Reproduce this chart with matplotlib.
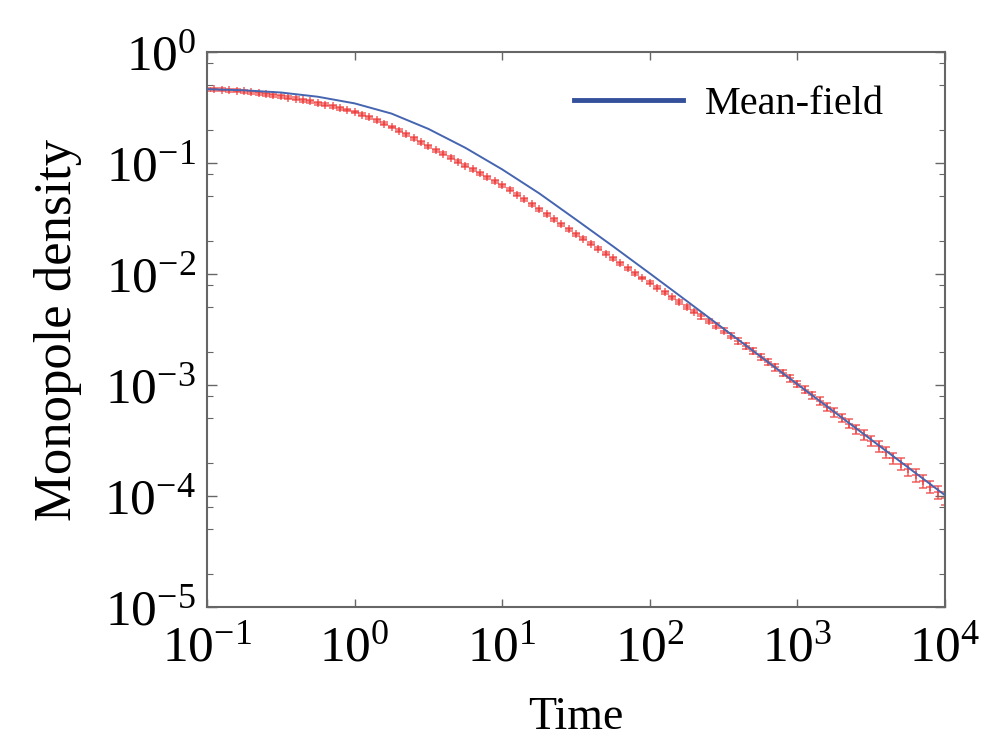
import numpy as np
import matplotlib
matplotlib.use("Agg")
import matplotlib.pyplot as plt
from matplotlib.ticker import LogLocator, FuncFormatter, NullLocator

plt.rcParams["font.family"] = ["Liberation Serif", "DejaVu Serif"]
plt.rcParams["mathtext.fontset"] = "custom"
plt.rcParams["mathtext.rm"] = "Liberation Serif"
plt.rcParams["mathtext.it"] = "Liberation Serif:italic"

# Mean-field curve, log10 of time and density
mf_log_time = [-1.00, -0.75, -0.50, -0.25, 0.00, 0.25, 0.50, 0.75, 1.00, 1.25,
               1.50, 1.75, 2.00, 2.25, 2.50, 2.75, 3.00, 3.50, 4.00]
mf_log_density = [-0.335, -0.345, -0.365, -0.403, -0.463, -0.555, -0.693,
                  -0.863, -1.058, -1.273, -1.510, -1.750, -1.995, -2.243,
                  -2.493, -2.743, -2.993, -3.493, -3.993]

# Simulation points: log10(time) and log10(density)
sim_log_time = [
    -1.00, -0.95, -0.90, -0.85, -0.80, -0.75, -0.70, -0.65, -0.60, -0.55,
    -0.50, -0.45, -0.40, -0.35, -0.30, -0.25, -0.20, -0.15, -0.10, -0.05,
    0.00, 0.05, 0.10, 0.15, 0.20, 0.25, 0.30, 0.35, 0.40, 0.45,
    0.50, 0.55, 0.60, 0.65, 0.70, 0.75, 0.80, 0.85, 0.90, 0.95,
    1.00, 1.05, 1.10, 1.15, 1.20, 1.25, 1.30, 1.35, 1.40, 1.45,
    1.50, 1.55, 1.60, 1.65, 1.70, 1.75, 1.80, 1.85, 1.90, 1.95,
    2.00, 2.05, 2.10, 2.15, 2.20, 2.25, 2.30, 2.35, 2.40, 2.45,
    2.50, 2.55, 2.60, 2.65, 2.70, 2.75, 2.80, 2.85, 2.90, 2.95,
    3.00, 3.05, 3.10, 3.15, 3.20, 3.25, 3.30, 3.35, 3.40, 3.45,
    3.50, 3.55, 3.60, 3.65, 3.70, 3.75, 3.80, 3.85, 3.90, 3.95,
    4.00,
]
sim_log_density = [
    -0.335, -0.337, -0.340, -0.344, -0.349, -0.355, -0.362, -0.370, -0.379, -0.389,
    -0.400, -0.410, -0.421, -0.433, -0.446, -0.460, -0.475, -0.490, -0.506, -0.522,
    -0.540, -0.564, -0.590, -0.617, -0.646, -0.676, -0.708, -0.741, -0.776, -0.812,
    -0.850, -0.884, -0.918, -0.953, -0.988, -1.023, -1.058, -1.093, -1.128, -1.164,
    -1.200, -1.242, -1.285, -1.328, -1.372, -1.416, -1.460, -1.505, -1.550, -1.595,
    -1.640, -1.684, -1.728, -1.772, -1.816, -1.860, -1.904, -1.948, -1.992, -2.036,
    -2.080, -2.123, -2.166, -2.209, -2.252, -2.295, -2.338, -2.381, -2.424, -2.467,
    -2.510, -2.556, -2.602, -2.649, -2.696, -2.744, -2.792, -2.841, -2.890, -2.940,
    -2.990, -3.041, -3.092, -3.143, -3.194, -3.245, -3.296, -3.347, -3.398, -3.449,
    -3.500, -3.552, -3.604, -3.656, -3.708, -3.760, -3.812, -3.864, -3.916, -3.968,
    -4.020,
]
# relative error of each simulation point
sim_rel_err = [
    0.03, 0.03, 0.03, 0.03, 0.03, 0.03, 0.03, 0.03, 0.03, 0.03,
    0.03, 0.03, 0.03, 0.03, 0.03, 0.03, 0.03, 0.03, 0.03, 0.03,
    0.03, 0.03, 0.03, 0.03, 0.03, 0.03, 0.03, 0.03, 0.03, 0.03,
    0.03, 0.03, 0.03, 0.03, 0.03, 0.03, 0.03, 0.03, 0.03, 0.03,
    0.03, 0.03, 0.03, 0.03, 0.03, 0.03, 0.03, 0.03, 0.03, 0.03,
    0.03, 0.03, 0.03, 0.03, 0.03, 0.03, 0.03, 0.03, 0.03, 0.03,
    0.03, 0.03, 0.035, 0.035, 0.04, 0.04, 0.04, 0.045, 0.045, 0.05,
    0.05, 0.05, 0.055, 0.055, 0.06, 0.06, 0.06, 0.065, 0.065, 0.07,
    0.07, 0.075, 0.08, 0.08, 0.085, 0.09, 0.09, 0.095, 0.10, 0.10,
    0.105, 0.11, 0.11, 0.115, 0.12, 0.12, 0.125, 0.13, 0.13, 0.135,
    0.14,
]

mf_time = 10 ** np.array(mf_log_time)
mf_density = 10 ** np.array(mf_log_density)
sim_time = 10 ** np.array(sim_log_time)
sim_density = 10 ** np.array(sim_log_density)
sim_err = sim_density * np.array(sim_rel_err)

fig = plt.figure(figsize=(9.93, 7.47), dpi=100)
ax = fig.add_axes([0.2085, 0.1874, 0.7432, 0.743])

ax.errorbar(sim_time, sim_density, yerr=sim_err, fmt="+", color="#ee3a3a",
            ms=6, mew=1.1, elinewidth=1.1, capsize=3, capthick=1.1,
            alpha=0.8, zorder=2)
ax.plot(mf_time, mf_density, color="#4565b0", lw=1.4, zorder=3,
        label="Mean-field")

ax.set_xscale("log")
ax.set_yscale("log")
ax.set_xlim(0.1, 1e4)
ax.set_ylim(1e-5, 1)

fmt = FuncFormatter(lambda v, p: r"$\mathregular{10^{%d}}$" % round(np.log10(v)))
ax.xaxis.set_major_locator(LogLocator(base=10, numticks=10))
ax.xaxis.set_minor_locator(NullLocator())
ax.xaxis.set_major_formatter(fmt)
ax.yaxis.set_major_locator(LogLocator(base=10, numticks=10))
ax.yaxis.set_minor_locator(LogLocator(base=10, subs=(2, 5, 8), numticks=10))
ax.yaxis.set_major_formatter(fmt)
ax.yaxis.set_minor_formatter(FuncFormatter(lambda v, p: ""))

ax.tick_params(which="both", direction="in", top=True, right=True,
               color="#666666", labelsize=37)
ax.tick_params(axis="x", which="major", length=6, width=1.0, pad=13)
ax.tick_params(axis="y", which="major", length=7, width=1.0, pad=8)
ax.tick_params(axis="y", which="minor", length=4, width=0.8)
for sp in ax.spines.values():
    sp.set_color("#666666")
    sp.set_linewidth(1.5)

ax.set_xlabel("Time", fontsize=33, labelpad=18)
ax.set_ylabel("Monopole density", fontsize=38, labelpad=16)

leg = ax.legend(loc="center right", bbox_to_anchor=(0.945, 0.905), frameon=False,
                fontsize=29, handlelength=2.7, handletextpad=0.55, borderpad=0)
leg.get_lines()[0].set_linewidth(3.5)
leg.get_lines()[0].set_color("#34509a")

fig.savefig("out.png", dpi=100)
